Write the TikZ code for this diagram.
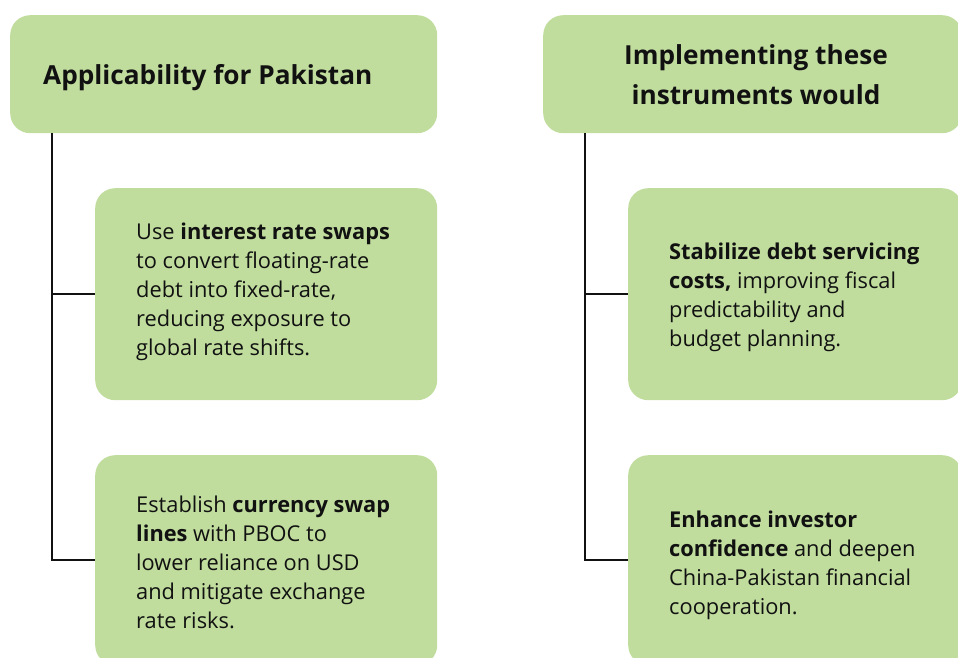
\documentclass[tikz,border=0pt]{standalone}
\usepackage{fontspec}
\setmainfont{Open Sans}[Ligatures=NoCommon]
\usetikzlibrary{calc}
\definecolor{leaf}{RGB}{192,221,158}
\definecolor{ink}{RGB}{17,17,17}
% left-aligned and centred stacks of lines; the baseline is that of the first line
\newcommand\leftlines[1]{\vtop{\halign{##\hfil\cr#1\crcr}}}
\newcommand\midlines[1]{\vtop{\halign{\hfil##\hfil\cr#1\crcr}}}
\begin{document}
\begin{tikzpicture}[x=1pt,y=-1pt,
  panel/.style={fill=leaf, draw=none, rounded corners=20pt, inner sep=0pt, anchor=north west},
  body/.style={anchor=base west, inner sep=0pt, text=ink, font=\fontsize{21.8}{29}\selectfont},
  head/.style={inner sep=0pt, text=ink, font=\bfseries\fontsize{26.2}{40}\selectfont},
  link/.style={line width=2pt, draw=ink}]
\useasboundingbox (0,0) rectangle (958,658);
\clip (0,0) rectangle (958,658);

% header panels
\node[panel, minimum width=427pt, minimum height=118pt] (hdrL) at (10,15) {};
\node[panel, minimum width=419pt, minimum height=118pt] (hdrR) at (543,15) {};

% content cards
\node[panel, minimum width=342pt, minimum height=212pt] (cardL1) at (95,188) {};
\node[panel, minimum width=342pt, minimum height=210pt] (cardL2) at (95,455) {};
\node[panel, minimum width=334pt, minimum height=212pt] (cardR1) at (628,188) {};
\node[panel, minimum width=334pt, minimum height=210pt] (cardR2) at (628,455) {};

% header titles
\node[head, anchor=base west] (titleL) at (43,85) {Applicability for Pakistan};
\node[head, anchor=base] (titleR) at (756,65) {\midlines{Implementing these\cr instruments would}};

% card texts
\node[body] (textL1) at (136,239) {\leftlines{Use {\bfseries interest rate swaps}\cr
  to convert floating-rate\cr debt into fixed-rate,\cr reducing exposure to\cr global rate shifts.}};
\node[body] (textL2) at (136,512) {\leftlines{Establish {\bfseries currency swap}\cr
  {\bfseries lines} with PBOC to\cr lower reliance on USD\cr and mitigate exchange\cr rate risks.}};
\node[body] (textR1) at (669,259) {\leftlines{{\bfseries Stabilize debt servicing}\cr
  {\bfseries costs,} improving fiscal\cr predictability and\cr budget planning.}};
\node[body] (textR2) at (669,527) {\leftlines{{\bfseries Enhance investor}\cr
  {\bfseries confidence} and deepen\cr China-Pakistan financial\cr cooperation.}};

% tree connectors
\coordinate (trunkL) at ($(hdrL.south west)+(42,0)$);
\coordinate (trunkR) at ($(hdrR.south west)+(42,0)$);
\draw[link] (trunkL) |- (cardL2.west);
\draw[link] (trunkL |- cardL1.west) -- (cardL1.west);
\draw[link] (trunkR) |- (cardR2.west);
\draw[link] (trunkR |- cardR1.west) -- (cardR1.west);
\end{tikzpicture}
\end{document}
